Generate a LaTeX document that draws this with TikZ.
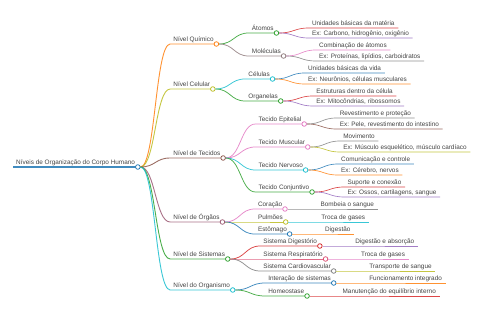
\documentclass[tikz,border=0pt]{standalone}
\usepackage{fontspec}
\setmainfont{Liberation Sans}
\usetikzlibrary{calc}
\definecolor{cblue}{HTML}{1F77B4}
\definecolor{corange}{HTML}{FF7F0E}
\definecolor{cgreen}{HTML}{2CA02C}
\definecolor{cred}{HTML}{D62728}
\definecolor{cpurple}{HTML}{9467BD}
\definecolor{cbrown}{HTML}{8C564B}
\definecolor{cpink}{HTML}{E377C2}
\definecolor{cgray}{HTML}{7F7F7F}
\definecolor{colive}{HTML}{BCBD22}
\definecolor{ccyan}{HTML}{17BECF}
\definecolor{cmauve}{HTML}{9C5A74}
\definecolor{cgraybrown}{HTML}{8E7A7C}
\definecolor{cpinkred}{HTML}{DC4F72}
\definecolor{textgray}{HTML}{444444}
\tikzset{
  txt/.style={font=\fontsize{6.4}{7}\selectfont, text=textgray, inner sep=0pt, anchor=base west},
  dot/.style={circle, fill=white, inner sep=0pt, minimum size=4.6pt, line width=0.75pt},
  lnk/.style={draw opacity=0.85},
}
% #1 name, #2 parent, #3 y, #4 colour, #5 line width, #6 text
\newcommand\mmnode[6]{%
  \path let \p1=(#2-d.east) in coordinate (#1-s) at (\x1+29.7pt,-#3pt);
  \node[txt] (#1) at ($(#1-s)+(3pt,2pt)$) {#6};
  \path let \p1=(#1.east), \p2=(#1-s) in coordinate (#1-c) at (\x1+2.6pt,\y2);
  \draw[lnk, #4, line width=#5] let \p1=(#2-d.east), \p2=(#1-s) in
    (\p1) .. controls ({(\x1+\x2)/2},\y1) and ({(\x1+\x2)/2},\y2) .. (\p2) -- (#1-c);
  \node[dot, draw=#4] (#1-d) at (#1-c) {};
}
% leaf: #1 name, #2 parent, #3 y, #4 colour, #5 text
\newcommand\mmleaf[5]{%
  \path let \p1=(#2-d.east) in coordinate (#1-s) at (\x1+29.7pt,-#3pt);
  \node[txt] (#1) at ($(#1-s)+(3pt,2pt)$) {#5};
  \path let \p1=(#1.east), \p2=(#1-s) in coordinate (#1-c) at (\x1+3.5pt,\y2);
  \draw[lnk, #4, line width=0.65pt] let \p1=(#2-d.east), \p2=(#1-s) in
    (\p1) .. controls ({(\x1+\x2)/2},\y1) and ({(\x1+\x2)/2},\y2) .. (\p2) -- (#1-c);
}
\begin{document}
\begin{tikzpicture}
\useasboundingbox[fill=white] (0pt,0pt) rectangle (480pt,-320pt);
% root
\coordinate (root-s) at (13pt,-167pt);
\node[txt] (root) at (16pt,-165pt) {Níveis de Organização do Corpo Humano};
\path let \p1=(root.east), \p2=(root-s) in coordinate (root-c) at (\x1+2.6pt,\y2);
\draw[lnk, cblue, line width=1.2pt] (root-s) -- (root-c);
\node[dot, draw=cblue] (root-d) at (root-c) {};
% Químico
\mmnode{q}{root}{44}{corange}{0.9pt}{Nível Químico}
\mmnode{a}{q}{33}{cgreen}{0.75pt}{Átomos}
\mmleaf{a1}{a}{28}{cred}{Unidades básicas da matéria}
\mmleaf{a2}{a}{38}{cpurple}{Ex: Carbono, hidrogênio, oxigênio}
\mmnode{m}{q}{56}{cgraybrown}{0.75pt}{Moléculas}
\mmleaf{m1}{m}{50}{cpink}{Combinação de átomos}
\mmleaf{m2}{m}{61}{cgray}{Ex: Proteínas, lipídios, carboidratos}
% Celular
\mmnode{c}{root}{89}{colive}{0.9pt}{Nível Celular}
\mmnode{ce}{c}{79}{ccyan}{0.75pt}{Células}
\mmleaf{ce1}{ce}{73}{cblue}{Unidades básicas da vida}
\mmleaf{ce2}{ce}{84}{corange}{Ex: Neurônios, células musculares}
\mmnode{or}{c}{101}{cgreen}{0.75pt}{Organelas}
\mmleaf{or1}{or}{96}{cred}{Estruturas dentro da célula}
\mmleaf{or2}{or}{106}{cpurple}{Ex: Mitocôndrias, ribossomos}
% Tecidos
\mmnode{t}{root}{158}{cbrown}{0.9pt}{Nível de Tecidos}
\mmnode{te}{t}{124}{cpink}{0.75pt}{Tecido Epitelial}
\mmleaf{te1}{te}{118}{cgray}{Revestimento e proteção}
\mmleaf{te2}{te}{129}{cbrown}{Ex: Pele, revestimento do intestino}
\mmnode{tm}{t}{147}{cpink}{0.75pt}{Tecido Muscular}
\mmleaf{tm1}{tm}{141}{cgray}{Movimento}
\mmleaf{tm2}{tm}{152}{colive}{Ex: Músculo esquelético, músculo cardíaco}
\mmnode{tn}{t}{170}{ccyan}{0.75pt}{Tecido Nervoso}
\mmleaf{tn1}{tn}{164}{cblue}{Comunicação e controle}
\mmleaf{tn2}{tn}{175}{corange}{Ex: Cérebro, nervos}
\mmnode{tc}{t}{192}{cgreen}{0.75pt}{Tecido Conjuntivo}
\mmleaf{tc1}{tc}{187}{cred}{Suporte e conexão}
\mmleaf{tc2}{tc}{197}{cpurple}{Ex: Ossos, cartilagens, sangue}
% Órgãos
\mmnode{o}{root}{222}{cmauve}{0.9pt}{Nível de Órgãos}
\mmnode{oc}{o}{209}{cpink}{0.75pt}{Coração}
\mmleaf{oc1}{oc}{209}{cgray}{Bombeia o sangue}
\mmnode{op}{o}{222}{colive}{0.75pt}{Pulmões}
\mmleaf{op1}{op}{222}{ccyan}{Troca de gases}
\mmnode{oe}{o}{234}{cblue}{0.75pt}{Estômago}
\mmleaf{oe1}{oe}{234}{corange}{Digestão}
% Sistemas
\mmnode{s}{root}{259}{cgreen}{0.9pt}{Nível de Sistemas}
\mmnode{sd}{s}{246}{cred}{0.75pt}{Sistema Digestório}
\mmleaf{sd1}{sd}{246}{cpurple}{Digestão e absorção}
\mmnode{sr}{s}{259}{cpinkred}{0.75pt}{Sistema Respiratório}
\mmleaf{sr1}{sr}{259}{cpink}{Troca de gases}
\mmnode{sc}{s}{271}{cgray}{0.75pt}{Sistema Cardiovascular}
\mmleaf{sc1}{sc}{271}{colive}{Transporte de sangue}
% Organismo
\mmnode{g}{root}{290}{ccyan}{0.9pt}{Nível do Organismo}
\mmnode{gi}{g}{283}{cblue}{0.75pt}{Interação de sistemas}
\mmleaf{gi1}{gi}{283}{corange}{Funcionamento integrado}
\mmnode{gh}{g}{296}{cgreen}{0.75pt}{Homeostase}
\mmleaf{gh1}{gh}{296}{cred}{Manutenção do equilíbrio interno}
\end{tikzpicture}
\end{document}
